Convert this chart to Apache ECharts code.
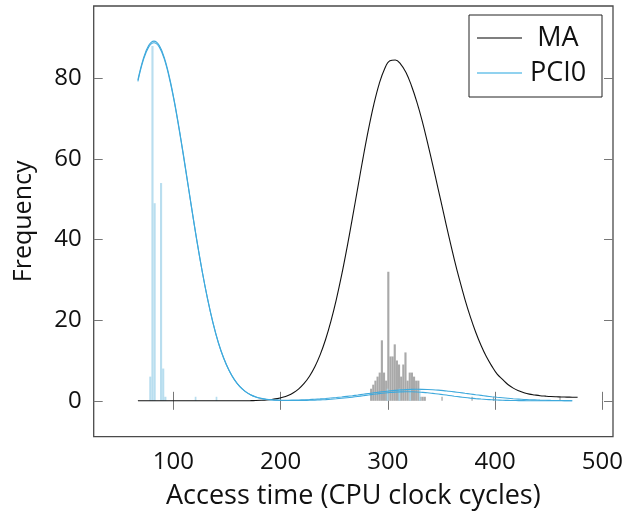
<!DOCTYPE html>
<html>
<head>
<meta charset="utf-8">
<script src="https://cdn.jsdelivr.net/npm/echarts@6/dist/echarts.min.js"></script>
<style>
  html, body { margin: 0; padding: 0; background: #fff; }
  #chart { width: 626px; height: 515px; }
</style>
</head>
<body>
<div id="chart"></div>
<script>
// Histogram bins: left edge, bin width and counts
const maBinStart = 283.5;
const maBinWidth = 2;
const maCounts = [3, 4, 5, 6, 7, 15, 7, 5, 32, 11, 11, 14, 10, 9, 6, 9, 12, 5, 7, 7, 6, 5, 5, 1, 1, 1];
const maExtraBins = [350, 378, 398, 460];
const maExtraCounts = [1, 1, 1, 1];

const pciBinStart = 77.6;
const pciBinWidth = 2;
const pciCounts = [6, 88, 49, 0, 0, 54, 8, 1];
const pciExtraBins = [120, 139.5, 299, 310, 320, 329];
const pciExtraCounts = [1, 1, 3, 3, 3, 3];

// Fitted density curves, sampled every 5 cycles from 67 to 472
const curveStart = 67;
const curveStep = 5;
const maCurve = [
  0, 0, 0, 0, 0, 0, 0, 0, 0, 0, 0, 0, 0, 0, 0, 0, 0, 0, 0, 0,
  0.02, 0.04, 0.07, 0.12, 0.20, 0.34, 0.54, 0.86, 1.33, 2.01, 2.97, 4.30, 6.09, 8.44, 11.45, 15.2, 19.75, 25.1, 31.2, 38.0,
  45.3, 52.8, 60.3, 67.3, 73.5, 78.6, 82.3, 84.3, 84.5, 83.5, 81.4, 78.2, 74.2, 69.5, 64.1, 58.4, 52.5, 46.6, 40.7, 35.1,
  29.9, 25.1, 20.8, 17.0, 13.7, 10.9, 8.6, 6.6, 5.3, 4.05, 3.15, 2.5, 2.0, 1.65, 1.45, 1.27, 1.15, 1.05, 0.99, 0.95,
  0.92, 0.9, 0.88
];
const pciCurveA = [
  79.6, 84.8, 88.1, 89.2, 88.1, 84.8, 79.6, 72.9, 65.1, 56.7, 48.1, 39.8, 32.1, 25.3, 19.4, 14.5, 10.6, 7.56, 5.24, 3.55,
  2.35, 1.51, 0.96, 0.61, 0.38, 0.25, 0.18, 0.15, 0.15, 0.17, 0.20, 0.25, 0.31, 0.39, 0.47, 0.57, 0.69, 0.81, 0.95, 1.11,
  1.27, 1.44, 1.62, 1.80, 1.98, 2.15, 2.31, 2.46, 2.59, 2.70, 2.78, 2.83, 2.85, 2.84, 2.80, 2.73, 2.64, 2.52, 2.37, 2.22,
  2.05, 1.87, 1.69, 1.51, 1.34, 1.17, 1.01, 0.87, 0.74, 0.62, 0.51, 0.42, 0.34, 0.27, 0.22, 0.17, 0.13, 0.10, 0.08, 0.06,
  0.04, 0.03
];
const pciCurveB = [
  79.2, 84.4, 87.7, 88.8, 87.7, 84.4, 79.2, 72.6, 64.8, 56.4, 47.9, 39.6, 32.0, 25.2, 19.3, 14.4, 10.55, 7.53, 5.22, 3.52,
  2.33, 1.49, 0.94, 0.58, 0.34, 0.20, 0.12, 0.08, 0.06, 0.07, 0.07, 0.09, 0.13, 0.17, 0.23, 0.30, 0.39, 0.50, 0.62, 0.76,
  0.91, 1.08, 1.26, 1.44, 1.61, 1.78, 1.93, 2.06, 2.16, 2.22, 2.25, 2.24, 2.19, 2.10, 1.99, 1.84, 1.68, 1.51, 1.33, 1.15,
  0.98, 0.82, 0.67, 0.54, 0.43, 0.34, 0.26, 0.20, 0.14, 0.11, 0.08, 0.05, 0.04, 0.02, 0.01, 0, 0, 0, 0, 0,
  0, 0
];

const xTicks = [100, 200, 300, 400, 500];
const yTicks = [0, 20, 40, 60, 80];

const FONT = 'Open Sans';
const blue = '#3fa9dc';
const lightBlue = 'rgba(173, 216, 236, 0.85)';
const gray = '#a9a9a9';

function bins(start, width, counts) {
  return counts.map((c, i) => [start + i * width, start + (i + 1) * width, c]);
}
function extraBins(starts, width, counts) {
  return starts.map((s, i) => [s, s + width, counts[i]]);
}
function sampled(values) {
  return values.map((v, i) => [curveStart + i * curveStep, v]);
}
function histRender(color) {
  return function (params, api) {
    const top = api.coord([api.value(0), api.value(2)]);
    const bottom = api.coord([api.value(1), 0]);
    return {
      type: 'rect',
      shape: { x: top[0], y: top[1], width: bottom[0] - top[0], height: bottom[1] - top[1] },
      style: { fill: color }
    };
  };
}

const tickStyle = { color: '#777', width: 1 };
const chart = echarts.init(document.getElementById('chart'), null, { renderer: 'canvas' });

chart.setOption({
  animation: false,
  backgroundColor: '#fff',
  grid: {
    left: 93.7, right: 13, top: 6, bottom: 78.3,
    show: true, borderColor: '#4a4a4a', borderWidth: 1.3, backgroundColor: 'transparent'
  },
  legend: {
    data: [
      { name: 'MA', itemStyle: { color: '#555' } },
      { name: 'PCI0', itemStyle: { color: '#6cc3ea' } }
    ],
    orient: 'vertical',
    left: 469, top: 15,
    padding: [8, 13, 9, 8],
    icon: 'rect',
    itemWidth: 45, itemHeight: 1.3, itemGap: 5,
    backgroundColor: '#fff', borderColor: '#222', borderWidth: 1, borderRadius: 0,
    textStyle: {
      fontFamily: FONT, fontSize: 27, color: '#111', lineHeight: 30,
      rich: { c: { fontFamily: FONT, fontSize: 27, color: '#111', width: 62, align: 'center', lineHeight: 30 } }
    },
    formatter: name => '{c|' + name + '}'
  },
  xAxis: [{
    type: 'value', min: 25.8, max: 510,
    name: 'Access time (CPU clock cycles)', nameLocation: 'middle', nameGap: 46,
    nameTextStyle: { fontFamily: FONT, fontSize: 27, color: '#111' },
    axisLine: { show: false },
    axisTick: { show: true, inside: true, length: 9, lineStyle: tickStyle, customValues: xTicks },
    axisLabel: { show: true, margin: 13, fontFamily: FONT, fontSize: 24, color: '#111', customValues: xTicks },
    splitLine: { show: false }
  }, {
    type: 'value', min: 25.8, max: 510, position: 'top',
    axisLine: { show: false },
    axisTick: { show: true, inside: true, length: 9, lineStyle: tickStyle, customValues: xTicks },
    axisLabel: { show: false },
    splitLine: { show: false }
  }],
  yAxis: [{
    type: 'value', min: -8.9, max: 97.9,
    name: 'Frequency', nameLocation: 'middle', nameGap: 57,
    nameTextStyle: { fontFamily: FONT, fontSize: 25, color: '#111' },
    axisLine: { show: false },
    axisTick: { show: true, inside: true, length: 9, lineStyle: tickStyle, customValues: yTicks },
    axisLabel: { show: true, margin: 12, fontFamily: FONT, fontSize: 24, color: '#111', customValues: yTicks },
    splitLine: { show: false }
  }, {
    type: 'value', min: -8.9, max: 97.9, position: 'right',
    axisLine: { show: false },
    axisTick: { show: true, inside: true, length: 9, lineStyle: tickStyle, customValues: yTicks },
    axisLabel: { show: false },
    splitLine: { show: false }
  }],
  series: [
    {
      name: 'MA hist', type: 'custom', renderItem: histRender(gray),
      data: bins(maBinStart, maBinWidth, maCounts).concat(extraBins(maExtraBins, 1.2, maExtraCounts)),
      encode: { x: [0, 1], y: 2 }, silent: true, z: 1
    },
    {
      name: 'PCI0 hist', type: 'custom', renderItem: histRender(lightBlue),
      data: bins(pciBinStart, pciBinWidth, pciCounts).concat(extraBins(pciExtraBins, 1.6, pciExtraCounts)),
      encode: { x: [0, 1], y: 2 }, silent: true, z: 2
    },
    {
      name: 'MA', type: 'line', data: sampled(maCurve), smooth: 0.4,
      symbol: 'none', color: '#111', lineStyle: { color: '#111', width: 1.1 }, z: 3
    },
    {
      name: 'PCI0', type: 'line', data: sampled(pciCurveA), smooth: 0.4,
      symbol: 'none', color: blue, lineStyle: { color: blue, width: 1.1 }, z: 4
    },
    {
      name: 'PCI0 fit', type: 'line', data: sampled(pciCurveB), smooth: 0.4,
      symbol: 'none', color: blue, lineStyle: { color: blue, width: 1.1 }, z: 4
    }
  ]
});
</script>
</body>
</html>
